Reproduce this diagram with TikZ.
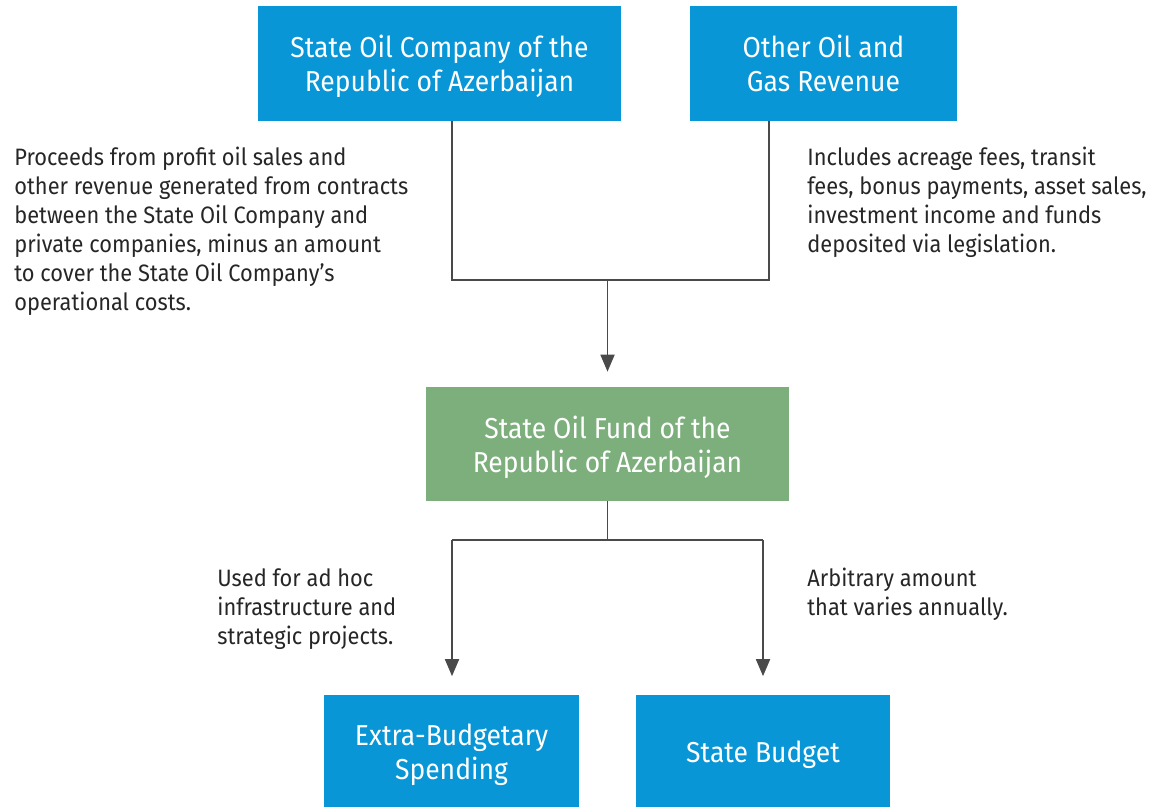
\documentclass[tikz,border=0pt]{standalone}
\usepackage{fontspec}
\setmainfont[FakeStretch=0.92]{Fira Sans}
\usetikzlibrary{positioning,arrows.meta}

\definecolor{oilblue}{HTML}{0896D7}
\definecolor{fundgreen}{HTML}{7DAF7C}
\definecolor{linegray}{HTML}{4A4A4A}

\begin{document}
\begin{tikzpicture}[x=0.02cm,y=-0.02cm,
	box/.style={text=white, align=center, inner sep=0pt, text depth=-0.12cm,
		font=\fontsize{16.4}{19.3}\selectfont, minimum height=2.3cm},
	bluebox/.style={box, fill=oilblue},
	greenbox/.style={box, fill=fundgreen},
	note/.style={anchor=north west, align=left, inner sep=0pt,
		font=\fontsize{13.5}{16.5}\selectfont, text=black!85},
	link/.style={draw=linegray, line width=1pt},
	arrow/.style={link, -{Triangle[width=0.28cm,length=0.34cm]}}
]

	% page
	\useasboundingbox (0,0) rectangle (1151,806);

	% boxes
	\node[bluebox, minimum width=7.26cm] (socar) at (439.5,63.5)
		{State Oil Company of the\\Republic of Azerbaijan};
	\node[bluebox, minimum width=5.34cm] (other) at (823.5,63.5)
		{Other Oil and\\Gas Revenue};
	\node[greenbox, minimum width=7.26cm, minimum height=2.28cm] (fund) at (607.5,444)
		{State Oil Fund of the\\Republic of Azerbaijan};
	\node[bluebox, minimum width=5.1cm] (extra) at (451.5,752)
		{Extra-Budgetary\\Spending};
	\node[bluebox, minimum width=5.08cm] (budget) at (763,752)
		{State Budget};

	% junctions
	\coordinate (inL) at (452,280);
	\coordinate (inR) at (769,280);
	\coordinate (outL) at (452,540);
	\coordinate (outR) at (763,540);

	% connectors
	\draw[link] (socar.south -| inL) -- (inL) -- (inR) -- (other.south -| inR);
	\draw[arrow, shorten >=0.3cm] (fund.north |- inL) -- (fund.north);
	\draw[link] (fund.south) -- (fund.south |- outL);
	\draw[link] (outL) -- (outR);
	\draw[arrow, shorten >=0.36cm] (outL) -- (outL |- extra.north);
	\draw[arrow, shorten >=0.36cm] (outR) -- (outR |- budget.north);

	% notes
	\node[note] (socarnote) at (14,147)
		{Proceeds from profit oil sales and\\
		other revenue generated from contracts\\
		between the State Oil Company and\\
		private companies, minus an amount\\
		to cover the State Oil Company’s\\
		operational costs.};
	\node[note] (othernote) at (807,147)
		{Includes acreage fees, transit\\
		fees, bonus payments, asset sales,\\
		investment income and funds\\
		deposited via legislation.};
	\node[note] (extranote) at (217,568)
		{Used for ad hoc\\
		infrastructure and\\
		strategic projects.};
	\node[note] (budgetnote) at (807,568)
		{Arbitrary amount\\
		that varies annually.};

\end{tikzpicture}
\end{document}
